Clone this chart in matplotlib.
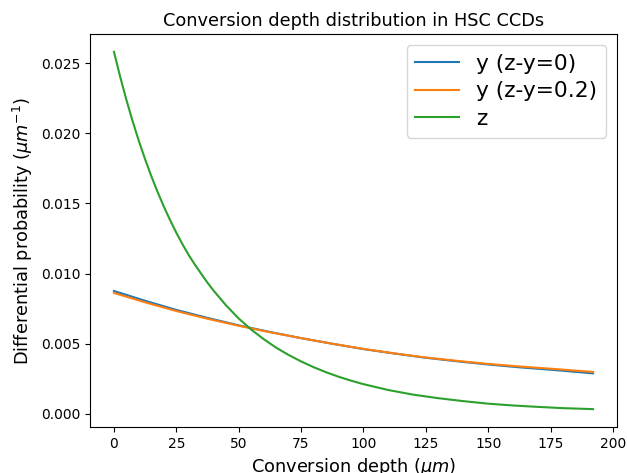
import matplotlib
matplotlib.use("Agg")
import matplotlib.pyplot as plt

# Conversion depth samples (micrometres) and differential probabilities
depth_y = [0, 12.5, 25, 37.5, 50, 62.5, 75, 87.5, 100, 112.5, 125, 137.5,
           150, 162.5, 175, 192]
prob_y0 = [0.00876, 0.00806, 0.00741, 0.00684, 0.00631, 0.00584, 0.00540,
           0.00500, 0.00462, 0.00430, 0.00400, 0.00375, 0.00352, 0.00332,
           0.00315, 0.00289]
prob_y02 = [0.00862, 0.00795, 0.00733, 0.00678, 0.00628, 0.00582, 0.00540,
            0.00500, 0.00463, 0.00431, 0.00402, 0.00378, 0.00356, 0.00338,
            0.00322, 0.00299]

depth_z = [0, 2.5, 5, 7.5, 10, 12.5, 15, 17.5, 20, 22.5, 25, 27.5, 30, 32.5,
           35, 37.5, 40, 45, 50, 55, 60, 65, 70, 75, 80, 85, 90, 95, 100,
           110, 120, 130, 140, 150, 160, 170, 180, 192]
prob_z = [0.0258, 0.02402, 0.02237, 0.02085, 0.01944, 0.01814, 0.01693,
          0.01581, 0.01477, 0.01381, 0.01291, 0.01208, 0.01131, 0.01062,
          0.00998, 0.00935, 0.00877, 0.00772, 0.00680, 0.00601, 0.00533,
          0.00472, 0.00420, 0.00374, 0.00333, 0.00297, 0.00265, 0.00237,
          0.00212, 0.00170, 0.00137, 0.00112, 0.00091, 0.00073, 0.00060,
          0.00050, 0.00041, 0.00034]

labels = ["y (z-y=0)", "y (z-y=0.2)", "z"]

fig = plt.figure(figsize=(6.27, 4.73), dpi=100)
ax = fig.add_axes([90 / 627, 1 - 427 / 473, 527 / 627, 393 / 473])

ax.plot(depth_y, prob_y0, color="C0", label=labels[0])
ax.plot(depth_y, prob_y02, color="C1", label=labels[1])
ax.plot(depth_z, prob_z, color="C2", label=labels[2])

ax.set_xticks([0, 25, 50, 75, 100, 125, 150, 175, 200])
ax.set_yticks([0.000, 0.005, 0.010, 0.015, 0.020, 0.025])
ax.set_title("Conversion depth distribution in HSC CCDs", fontsize=12.8)
ax.set_xlabel(r"Conversion depth ($\mu m$)", fontsize=12.8)
ax.set_ylabel(r"Differential probability ($\mu m^{-1}$)", fontsize=12.8)
ax.legend(loc="upper right", fontsize=15.7, labelspacing=0.35)

fig.savefig("out.png", dpi=100)
